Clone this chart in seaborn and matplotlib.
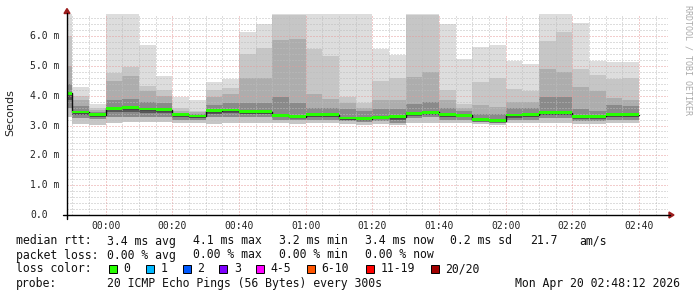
import numpy as np
import matplotlib
matplotlib.use("Agg")
import matplotlib.pyplot as plt
import matplotlib.transforms as mtransforms
from matplotlib.patches import Rectangle, Polygon
from matplotlib.lines import Line2D
import seaborn as sns

# ---------------- data (minutes after 00:00, values in ms) ----------------
times_min = [-15, -10, -5, 0, 5, 10, 15, 20, 25, 30, 35, 40, 45, 50, 55, 60, 65,
             70, 75, 80, 85, 90, 95, 100, 105, 110, 115, 120, 125, 130, 135, 140,
             145, 150, 155]
end_min = 160

median_ms = [4.08, 3.45, 3.36, 3.58, 3.60, 3.55, 3.53, 3.36, 3.32, 3.49, 3.52,
             3.47, 3.47, 3.34, 3.30, 3.37, 3.36, 3.25, 3.22, 3.28, 3.30, 3.41,
             3.44, 3.36, 3.34, 3.20, 3.16, 3.35, 3.37, 3.43, 3.43, 3.31, 3.31,
             3.36, 3.36]
smoke_max = [6.75, 4.29, 3.72, 6.75, 6.75, 5.70, 4.65, 3.97, 3.86, 4.47, 4.57,
             6.13, 6.40, 6.75, 6.75, 6.75, 6.75, 6.75, 6.75, 5.58, 5.37, 6.75,
             6.75, 6.40, 5.22, 5.62, 5.70, 5.17, 5.06, 6.75, 6.75, 6.43, 5.18,
             5.13, 5.14]
smoke_u3 = [6.00, 4.00, 3.60, 4.75, 4.95, 4.33, 4.20, 3.60, 3.50, 4.19, 4.26,
            5.40, 5.60, 6.70, 6.70, 5.58, 5.33, 3.97, 3.75, 4.50, 4.58, 6.70,
            6.70, 4.20, 3.72, 4.47, 4.58, 4.21, 4.17, 5.82, 6.12, 4.90, 4.69,
            4.55, 4.60]
smoke_u2 = [5.00, 3.85, 3.52, 4.50, 4.65, 4.15, 4.00, 3.50, 3.44, 3.97, 4.06,
            4.60, 4.60, 5.88, 5.90, 4.05, 3.90, 3.75, 3.60, 3.85, 3.85, 4.62,
            4.80, 3.86, 3.60, 3.70, 3.62, 3.80, 3.80, 4.90, 4.80, 4.28, 4.17,
            3.92, 3.87]
smoke_u1 = [4.40, 3.65, 3.45, 3.86, 3.90, 3.80, 3.75, 3.42, 3.38, 3.70, 3.75,
            3.75, 3.75, 3.95, 3.75, 3.60, 3.60, 3.55, 3.50, 3.55, 3.55, 3.72,
            3.80, 3.60, 3.48, 3.40, 3.40, 3.60, 3.60, 3.95, 3.97, 3.55, 3.50,
            3.70, 3.65]
smoke_lo = [3.60, 3.25, 3.22, 3.30, 3.30, 3.30, 3.30, 3.20, 3.20, 3.28, 3.30,
            3.28, 3.28, 3.20, 3.18, 3.20, 3.20, 3.15, 3.12, 3.15, 3.08, 3.25,
            3.28, 3.20, 3.20, 3.12, 3.10, 3.18, 3.20, 3.25, 3.25, 3.15, 3.15,
            3.20, 3.20]
smoke_min = [3.30, 3.05, 3.02, 3.10, 3.12, 3.12, 3.12, 3.10, 3.10, 3.06, 3.08,
             3.10, 3.10, 3.08, 3.05, 3.08, 3.08, 3.05, 3.03, 3.05, 3.03, 3.10,
             3.10, 3.08, 3.08, 3.05, 3.03, 3.07, 3.08, 3.10, 3.10, 3.05, 3.05,
             3.07, 3.08]

xtick_pos = [0, 20, 40, 60, 80, 100, 120, 140, 160]
xtick_labels = ["00:00", "00:20", "00:40", "01:00", "01:20", "01:40", "02:00",
                "02:20", "02:40"]
ytick_pos = [0, 1, 2, 3, 4, 5, 6]
ytick_labels = ["0.0", "1.0 m", "2.0 m", "3.0 m", "4.0 m", "5.0 m", "6.0 m"]

loss_labels = ["0", "1", "2", "3", "4-5", "6-10", "11-19", "20/20"]
loss_colors = ["#26ff00", "#00b8ff", "#0059ff", "#7e00ff", "#ff00ff",
               "#ff5500", "#ff0000", "#a10000"]

# ---------------- figure ----------------
sns.set_theme(style="white")
plt.rcParams["font.family"] = ["DejaVu Sans Mono", "DejaVu Sans"]

W, H = 697, 297
fig = plt.figure(figsize=(W / 100, H / 100), dpi=100)
fig.patch.set_facecolor("white")


def fx(x):
    return x / W


def fy(y):
    return 1 - y / H


ax = fig.add_axes([fx(67), fy(215), (668 - 67) / W, (215 - 14) / H])
ax.set_facecolor("white")
for s in ax.spines.values():
    s.set_visible(False)

x = np.array(times_min + [end_min], dtype=float)


def ext(a):
    a = np.asarray(a, dtype=float)
    return np.append(a, a[-1])


med = ext(median_ms)
smax, su3, su2, su1 = ext(smoke_max), ext(smoke_u3), ext(smoke_u2), ext(smoke_u1)
slo, smin = ext(smoke_lo), ext(smoke_min)

ax.fill_between(x, smin, smax, step="post", color="#dddddd", lw=0, zorder=1)
ax.fill_between(x, smin, su3, step="post", color="#c6c6c6", lw=0, zorder=1.1)
ax.fill_between(x, slo, su2, step="post", color="#adadad", lw=0, zorder=1.2)
ax.fill_between(x, slo, su1, step="post", color="#8a8a8a", lw=0, zorder=1.3)
ax.fill_between(x, (slo + med) / 2, med, step="post", color="#575757", lw=0,
                zorder=1.4)

sns.lineplot(x=x, y=med, drawstyle="steps-post", color="#111111", lw=1.0,
             ax=ax, zorder=3, estimator=None, sort=False)
ax.fill_between(x, med - 0.045, med + 0.05, step="post", color=loss_colors[0],
                lw=0, zorder=4)

ax.set_xlim(-11.6, 168.7)
ax.set_ylim(0, 6.74)

ax.set_xticks(xtick_pos)
ax.set_xticklabels(xtick_labels, fontsize=7, family="DejaVu Sans Mono",
                   color="#222222")
ax.set_xticks(np.arange(-10, 170, 5), minor=True)
ax.set_yticks(ytick_pos)
ax.set_yticklabels([])
ax.set_yticks(np.arange(0, 6.8, 0.2), minor=True)
ax.tick_params(axis="x", which="both", length=2, width=0.6, color="#aaaaaa",
               pad=2.5)
ax.tick_params(axis="y", which="both", length=0)

ax.set_axisbelow(False)
ax.grid(which="minor", color="#bdbdbd", lw=0.72, ls=(0, (1, 2)))
ax.grid(which="major", color="#e69a9a", lw=0.72, ls=(0, (1, 2)))

trans = mtransforms.blended_transform_factory(fig.transFigure, ax.transData)
for v, lab in zip(ytick_pos, ytick_labels):
    ax.text(fx(30), v, lab, transform=trans, ha="left", va="center",
            fontsize=7, family="DejaVu Sans Mono", color="#222222")

# axes lines with arrows
fig.add_artist(Line2D([fx(63), fx(670)], [fy(215), fy(215)], color="black",
                      lw=1.0))
fig.add_artist(Line2D([fx(67), fx(67)], [fy(219), fy(13)], color="black",
                      lw=1.0))
fig.add_artist(Polygon([[fx(669), fy(212)], [fx(674), fy(215)],
                        [fx(669), fy(218)]], closed=True, color="#9b1c1c",
                       transform=fig.transFigure))
fig.add_artist(Polygon([[fx(64), fy(13.5)], [fx(67), fy(8.5)],
                        [fx(70), fy(13.5)]], closed=True, color="#9b1c1c",
                       transform=fig.transFigure))

fig.text(fx(10), fy(113), "Seconds", rotation=90, ha="center", va="center",
         fontsize=8, family="DejaVu Sans", color="#222222")
fig.text(fx(688), fy(5), "RRDTOOL / TOBI OETIKER", rotation=270, ha="center",
         va="top", fontsize=6, family="DejaVu Sans Mono", color="#aaaaaa")

# ---------------- legend text ----------------
fs = 8.3
tc = "#111111"


def put(xp, yp, s, ha="left"):
    fig.text(fx(xp), fy(yp), s, ha=ha, va="center", fontsize=fs,
             family="DejaVu Sans Mono", color=tc)


put(16, 241, "median rtt:")
put(107, 241, "3.4 ms avg")
put(193, 241, "4.1 ms max")
put(279, 241, "3.2 ms min")
put(365, 241, "3.4 ms now")
put(450, 241, "0.2 ms sd")
put(530, 241, "21.7")
put(579, 241, "am/s")

put(16, 255, "packet loss:")
put(107, 255, "0.00 % avg")
put(193, 255, "0.00 % max")
put(279, 255, "0.00 % min")
put(365, 255, "0.00 % now")

put(16, 269, "loss color:")
box_x = [108.7, 145.7, 182.7, 219.3, 256, 307, 365.7, 430.7]
for bx, lab, col in zip(box_x, loss_labels, loss_colors):
    fig.add_artist(Rectangle((fx(bx), fy(273)), 8 / W, 8 / H, facecolor=col,
                             edgecolor="black", lw=0.7,
                             transform=fig.transFigure))
    put(bx + 14.5, 269, lab)

put(16, 283, "probe:")
put(107, 283, "20 ICMP Echo Pings (56 Bytes) every 300s")
put(680, 283, "Mon Apr 20 02:48:12 2026", ha="right")

fig.savefig("out.png", dpi=100, facecolor="white")
